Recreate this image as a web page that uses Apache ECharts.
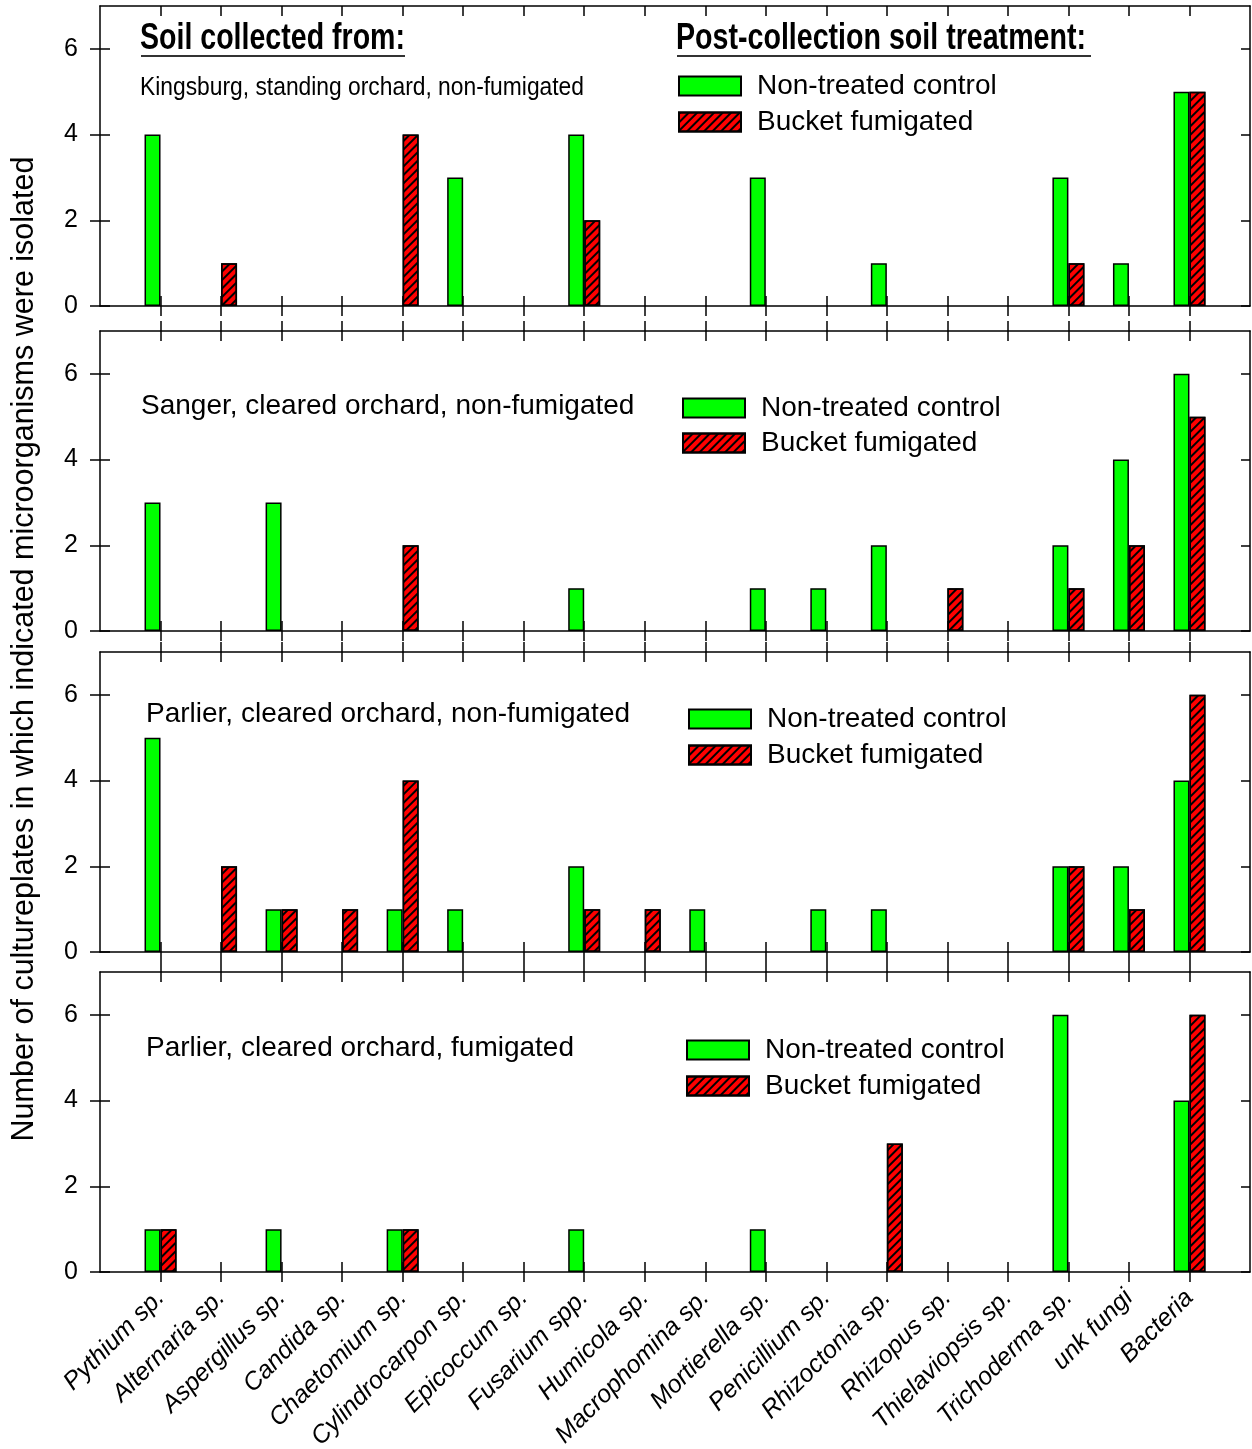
<!DOCTYPE html>
<html>
<head>
<meta charset="utf-8">
<title>Microorganisms isolated from orchard soils</title>
<script src="https://cdn.jsdelivr.net/npm/echarts@6/dist/echarts.min.js"></script>
<style>
  html, body { margin: 0; padding: 0; background: #fff; }
  #chart { width: 1252px; height: 1449px; }
</style>
</head>
<body>
<div id="chart"></div>
<script>
// ---- data -------------------------------------------------------------
const categories = [
  'Pythium sp.', 'Alternaria sp.', 'Aspergillus sp.', 'Candida sp.',
  'Chaetomium sp.', 'Cylindrocarpon sp.', 'Epicoccum sp.', 'Fusarium spp.',
  'Humicola sp.', 'Macrophomina sp.', 'Mortierella sp.', 'Penicillium sp.',
  'Rhizoctonia sp.', 'Rhizopus sp.', 'Thielaviopsis sp.', 'Trichoderma sp.',
  'unk fungi', 'Bacteria'
];
const seriesNames = ['Non-treated control', 'Bucket fumigated'];
const siteLabels = [
  'Kingsburg, standing orchard, non-fumigated',
  'Sanger, cleared orchard, non-fumigated',
  'Parlier, cleared orchard, non-fumigated',
  'Parlier, cleared orchard, fumigated'
];

const kingsburgControl   = [4, 0, 0, 0, 0, 3, 0, 4, 0, 0, 3, 0, 1, 0, 0, 3, 1, 5];
const kingsburgFumigated = [0, 1, 0, 0, 4, 0, 0, 2, 0, 0, 0, 0, 0, 0, 0, 1, 0, 5];
const sangerControl      = [3, 0, 3, 0, 0, 0, 0, 1, 0, 0, 1, 1, 2, 0, 0, 2, 4, 6];
const sangerFumigated    = [0, 0, 0, 0, 2, 0, 0, 0, 0, 0, 0, 0, 0, 1, 0, 1, 2, 5];
const parlierControl     = [5, 0, 1, 0, 1, 1, 0, 2, 0, 1, 0, 1, 1, 0, 0, 2, 2, 4];
const parlierFumigated   = [0, 2, 1, 1, 4, 0, 0, 1, 1, 0, 0, 0, 0, 0, 0, 2, 1, 6];
const parlierFumControl  = [1, 0, 1, 0, 1, 0, 0, 1, 0, 0, 1, 0, 0, 0, 0, 6, 0, 4];
const parlierFumFumig    = [1, 0, 0, 0, 1, 0, 0, 0, 0, 0, 0, 0, 3, 0, 0, 0, 0, 6];

const yTicks = [0, 2, 4, 6];
const yMax = 7;

// ---- layout ----------------------------------------------------------
const FONT = '"Liberation Sans", Arial, Helvetica, sans-serif';
const GRID_LEFT = 100, GRID_WIDTH = 1150, GRID_HEIGHT = 300;
const gridTops = [6, 331, 652, 972];
const LEGEND_ROW = 27;
// left edge, top of first swatch, distance between swatch tops
const legendPos = [
  { left: 678, top: 76, pitch: 35 },
  { left: 682, top: 398, pitch: 34 },
  { left: 688, top: 709, pitch: 35 },
  { left: 686, top: 1040, pitch: 35 }
];
const labelPos = [null, { x: 141, y: 406 }, { x: 146, y: 714 }, { x: 146, y: 1048 }];

const panels = [
  [kingsburgControl, kingsburgFumigated],
  [sangerControl, sangerFumigated],
  [parlierControl, parlierFumigated],
  [parlierFumControl, parlierFumFumig]
];

const catIndex = categories.map((_, i) => i);
const black = { color: '#000', width: 1.5 };

// black "////" hatching over the red fill
const hatch = {
  symbol: 'rect',
  symbolSize: 1,
  dashArrayX: [1, 0],
  dashArrayY: [1.2, 3.2],
  rotation: -Math.PI / 4,
  color: '#000'
};

// horizontal scale that makes a string span a given width (condensed type)
function textScale(text, font, target) {
  const ctx = document.createElement('canvas').getContext('2d');
  ctx.font = font;
  return target / ctx.measureText(text).width;
}

// bars only where something was isolated
const toBars = (values) => values.map((v, i) => [i, v]).filter((d) => d[1] > 0);

const grid = [], xAxis = [], yAxis = [], series = [], legend = [];

panels.forEach((pair, p) => {
  grid.push({
    left: GRID_LEFT, top: gridTops[p], width: GRID_WIDTH, height: GRID_HEIGHT,
    containLabel: false, outerBoundsMode: 'none'
  });

  const xBase = {
    type: 'value', gridIndex: p, min: -1, max: 18, interval: 1,
    splitLine: { show: false },
    axisLabel: { show: false },
    axisLine: { show: false, onZero: false, lineStyle: black }
  };
  const tickX = (inside) => ({ show: true, inside, length: 10, customValues: catIndex, lineStyle: black });

  const mainX = xAxis.length;
  // bottom axis (ticks inside, category names on the last panel)
  xAxis.push(Object.assign({}, xBase, {
    position: 'bottom',
    axisLine: { show: true, onZero: false, lineStyle: black },
    axisTick: tickX(true),
    axisLabel: p === panels.length - 1 ? {
      show: true, customValues: catIndex, rotate: 45, margin: 22,
      fontSize: 25, fontStyle: 'italic', fontFamily: FONT, color: '#000',
      formatter: (v) => categories[v] || ''
    } : { show: false }
  }));
  // bottom ticks outside
  xAxis.push(Object.assign({}, xBase, { position: 'bottom', axisTick: tickX(false) }));
  // top frame with ticks inside
  xAxis.push(Object.assign({}, xBase, {
    position: 'top',
    axisLine: { show: true, onZero: false, lineStyle: black },
    axisTick: tickX(true)
  }));
  if (p > 0) {
    xAxis.push(Object.assign({}, xBase, { position: 'top', axisTick: tickX(false) }));
  }

  const yBase = {
    type: 'value', gridIndex: p, min: 0, max: yMax, interval: 2,
    splitLine: { show: false },
    axisLabel: { show: false },
    axisLine: { show: false, onZero: false, lineStyle: black }
  };
  const tickY = (inside, len) => ({ show: true, inside, length: len, customValues: yTicks, lineStyle: black });

  const mainY = yAxis.length;
  yAxis.push(Object.assign({}, yBase, {
    position: 'left',
    axisLine: { show: true, onZero: false, lineStyle: black },
    axisTick: tickY(true, 10),
    axisLabel: {
      show: true, customValues: yTicks, margin: 22,
      fontSize: 25, fontFamily: FONT, color: '#000'
    }
  }));
  yAxis.push(Object.assign({}, yBase, { position: 'left', axisTick: tickY(false, 10) }));
  yAxis.push(Object.assign({}, yBase, {
    position: 'right',
    axisLine: { show: true, onZero: false, lineStyle: black },
    axisTick: tickY(true, 9)
  }));

  series.push({
    type: 'bar', name: seriesNames[0],
    xAxisIndex: mainX, yAxisIndex: mainY,
    barWidth: 16, barGap: '0%',
    itemStyle: { color: '#00ff00', borderColor: '#000', borderWidth: 1.5 },
    data: toBars(pair[0])
  });
  series.push({
    type: 'bar', name: seriesNames[1],
    xAxisIndex: mainX, yAxisIndex: mainY,
    barWidth: 16, barGap: '0%',
    itemStyle: { color: '#ff0000', borderColor: '#000', borderWidth: 1.5, decal: hatch },
    data: toBars(pair[1])
  });

  const lp = legendPos[p];
  legend.push({
    left: lp.left, top: lp.top - (LEGEND_ROW - 19) / 2,
    orient: 'vertical', padding: 0,
    itemWidth: 62, itemHeight: 19, itemGap: lp.pitch - LEGEND_ROW,
    icon: 'rect', selectedMode: false,
    data: seriesNames,
    textStyle: {
      fontSize: 28, fontFamily: FONT, color: '#000',
      lineHeight: LEGEND_ROW, padding: [0, 0, 0, 11]
    }
  });
});

// ---- titles and annotations ------------------------------------------
const headFont = 'bold 37px ' + FONT;
const siteFont = '25px ' + FONT;
const graphic = [
  {
    type: 'text', x: 25, y: 649, rotation: Math.PI / 2,
    style: {
      text: 'Number of cultureplates in which indicated microorganisms were isolated',
      font: '30.5px ' + FONT, fill: '#000', textAlign: 'center', textVerticalAlign: 'middle'
    }
  },
  {
    type: 'text', x: 140, y: 39,
    scaleX: textScale('Soil collected from:', headFont, 265),
    style: { text: 'Soil collected from:', font: headFont, fill: '#000', textAlign: 'left', textVerticalAlign: 'middle' }
  },
  { type: 'line', shape: { x1: 141, y1: 56, x2: 405, y2: 56 }, style: { stroke: '#333', lineWidth: 2 } },
  {
    type: 'text', x: 676, y: 39,
    scaleX: textScale('Post-collection soil treatment:', headFont, 410),
    style: { text: 'Post-collection soil treatment:', font: headFont, fill: '#000', textAlign: 'left', textVerticalAlign: 'middle' }
  },
  { type: 'line', shape: { x1: 677, y1: 56, x2: 1091, y2: 56 }, style: { stroke: '#333', lineWidth: 2 } },
  {
    type: 'text', x: 140, y: 88,
    scaleX: textScale(siteLabels[0], siteFont, 444),
    style: { text: siteLabels[0], font: siteFont, fill: '#000', textAlign: 'left', textVerticalAlign: 'middle' }
  }
];
for (let p = 1; p < siteLabels.length; p++) {
  graphic.push({
    type: 'text', x: labelPos[p].x, y: labelPos[p].y,
    style: { text: siteLabels[p], font: '28px ' + FONT, fill: '#000', textAlign: 'left', textVerticalAlign: 'middle' }
  });
}

const chart = echarts.init(document.getElementById('chart'), null, { renderer: 'canvas' });
chart.setOption({
  animation: false,
  backgroundColor: '#fff',
  textStyle: { fontFamily: FONT },
  grid, xAxis, yAxis, series, legend, graphic
});
</script>
</body>
</html>
